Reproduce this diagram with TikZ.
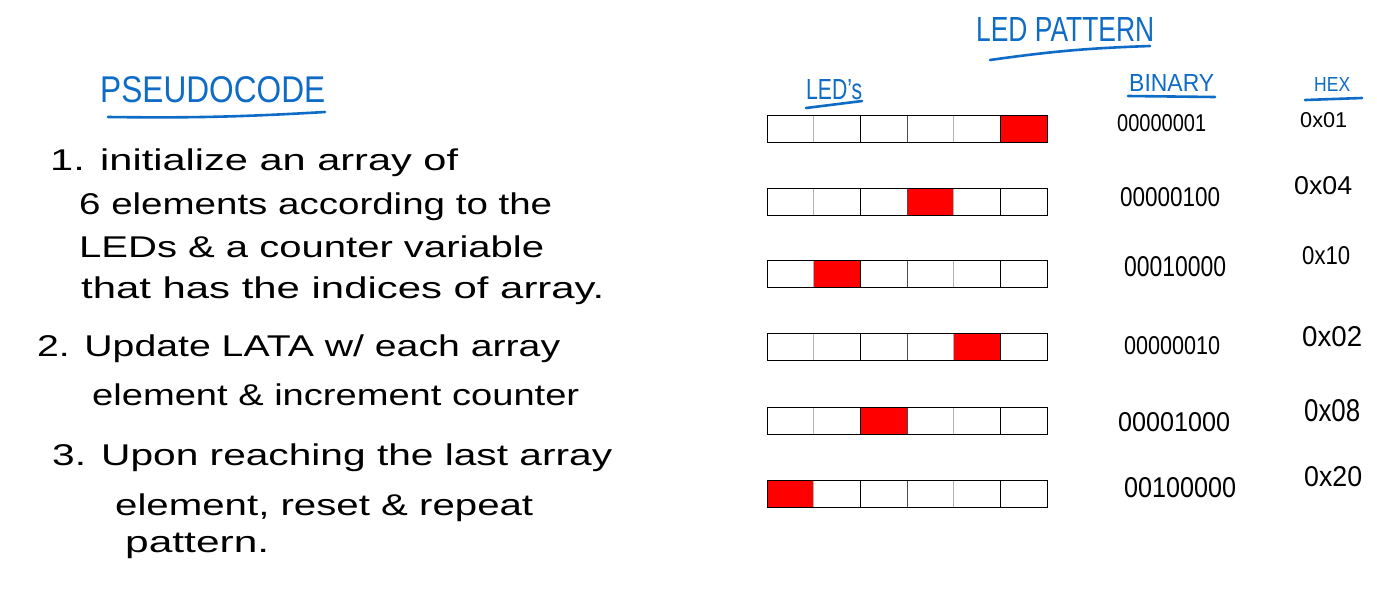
\documentclass[tikz,border=0pt]{standalone}
\usepackage{fontspec}
\setmainfont{Liberation Sans}
\usepackage{graphicx}
\definecolor{inkblue}{RGB}{15,108,198}
\definecolor{ledred}{RGB}{255,0,0}
\newcommand{\fitw}[2]{\resizebox{#1pt}{\height}{#2}}
\newcommand{\fitwh}[3]{\resizebox{#1pt}{#2pt}{#3}}
\tikzset{
  hw/.style={anchor=base west, inner sep=0pt, font=\fontsize{30}{30}\selectfont},
  hd/.style={anchor=south west, inner sep=0pt, text=inkblue, font=\fontsize{30}{30}\selectfont},
  num/.style={anchor=south west, inner sep=0pt, font=\fontsize{20}{20}\selectfont},
  uline/.style={draw=inkblue, line width=2.6pt, line cap=round},
  rowbox/.style={draw=black, line width=0.9pt, minimum width=280pt, minimum height=27pt, inner sep=0pt, anchor=north west},
  divA/.style={draw=gray!60, line width=0.9pt},
  divB/.style={draw=black, line width=0.9pt},
  divC/.style={draw=black!70, line width=0.9pt},
}
\begin{document}
\begin{tikzpicture}[x=1pt, y=-1pt]
\useasboundingbox[fill=white] (0,0) rectangle (1377,600);

% ---------- Pseudocode ----------
\node[hd] (pc) at (100,103) {\fitwh{225}{26}{PSEUDOCODE}};
\draw[uline] (108,117) to[bend right=2] (325,112);

\node[hw] (l1) at (50,170) {\fitw{408}{1. initialize an array of}};
\node[hw] (l2) at (79,214) {\fitw{473}{6 elements according to the}};
\node[hw] (l3) at (79,257) {\fitw{465}{LEDs \& a counter variable}};
\node[hw] (l4) at (81,298) {\fitw{523}{that has the indices of array.}};
\node[hw] (l5) at (37,356) {\fitw{523}{2. Update LATA w/ each array}};
\node[hw] (l6) at (92,405) {\fitw{487}{element \& increment counter}};
\node[hw] (l7) at (52,465) {\fitw{560}{3. Upon reaching the last array}};
\node[hw] (l8) at (115,515) {\fitw{418}{element, reset \& repeat}};
\node[hw] (l9) at (125,552) {\fitw{144}{pattern.}};

% ---------- LED pattern headings ----------
\node[hd] (lp) at (976,42) {\fitwh{178}{24}{LED PATTERN}};
\draw[uline] (990,60) to[bend left=3] (1150,46);
\node[hd] (leds) at (806,100) {\fitwh{56}{20}{LED's}};
\draw[uline] (806,108) -- (862,101);
\node[hd] (bin) at (1129,92) {\fitwh{85}{17}{BINARY}};
\draw[uline] (1128,96) -- (1215,97);
\node[hd] (hex) at (1314,92) {\fitwh{36}{14}{HEX}};
\draw[uline] (1305,100) -- (1362,98);

% ---------- LED rows ----------
\foreach \r/\top/\red in {1/115/6, 2/188/4, 3/260/2, 4/333/5, 5/407/3, 6/480/1} {
  \fill[ledred] ({767+(\red-1)*46.667}, \top) rectangle ++(46.667,27);
  \draw[divA] (813.667,\top) -- ++(0,27);
  \draw[divB] (860.333,\top) -- ++(0,27);
  \draw[divC] (907,\top) -- ++(0,27);
  \draw[divA] (953.667,\top) -- ++(0,27);
  \draw[divB] (1000.333,\top) -- ++(0,27);
  \node[rowbox] (row\r) at (767,\top) {};
}

% ---------- Binary values ----------
\node[num] (b1) at (1117,132) {\fitwh{89}{17}{00000001}};
\node[num] (b2) at (1120,207) {\fitwh{100}{19}{00000100}};
\node[num] (b3) at (1124,277) {\fitwh{102}{20}{00010000}};
\node[num] (b4) at (1124,355) {\fitwh{96}{18}{00000010}};
\node[num] (b5) at (1118,432) {\fitwh{112}{19}{00001000}};
\node[num] (b6) at (1124,498) {\fitwh{112}{20}{00100000}};

% ---------- Hex values ----------
\node[num] (h1) at (1300,128) {\fitwh{47}{15}{0x01}};
\node[num] (h2) at (1294,195) {\fitwh{58}{18}{0x04}};
\node[num] (h3) at (1302,265) {\fitwh{48}{18}{0x10}};
\node[num] (h4) at (1302,347) {\fitwh{60}{20}{0x02}};
\node[num] (h5) at (1304,422) {\fitwh{56}{22}{0x08}};
\node[num] (h6) at (1304,487) {\fitwh{58}{20}{0x20}};
\end{tikzpicture}
\end{document}
